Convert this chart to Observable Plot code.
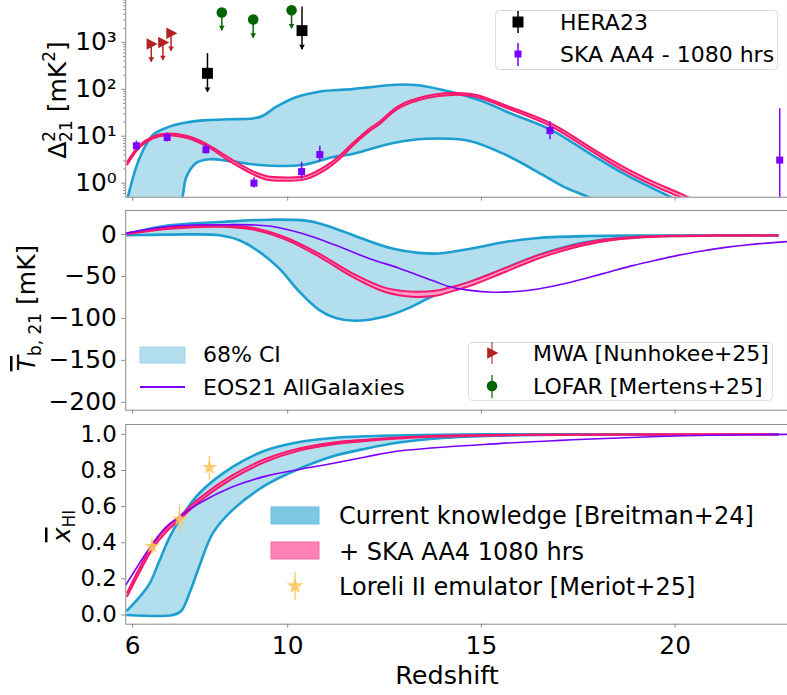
<!DOCTYPE html>
<html><head><meta charset="utf-8">
<script src="https://cdn.jsdelivr.net/npm/d3@7"></script>
<script src="https://cdn.jsdelivr.net/npm/@observablehq/plot@0.6"></script>
<style>
html,body{margin:0;padding:0;background:#fff;overflow:hidden;width:787px;height:695px;}
#root{position:relative;width:787px;height:695px;overflow:hidden;font-family:"DejaVu Sans",sans-serif;}
#root > div{position:absolute;left:0;}
</style></head><body><div id="root"></div>
<script>
// ---------------- axes / ticks ----------------
const X_DOMAIN = [5.82, 22.9];
const X_TICKS = [6, 10, 15, 20];
const X_TICK_LABELS = ["6", "10", "15", "20"];
const PS_DOMAIN = [0.501, 8610];
const PS_TICKS = [1, 10, 100, 1000];
const PS_TICK_LABELS = ["10⁰", "10¹", "10²", "10³"];
const TB_DOMAIN = [-209.4, 28.8];
const TB_TICKS = [0, -50, -100, -150, -200];
const TB_TICK_LABELS = ["0", "−50", "−100", "−150", "−200"];
const XHI_DOMAIN = [-0.051, 1.055];
const XHI_TICKS = [0, 0.2, 0.4, 0.6, 0.8, 1.0];
const XHI_TICK_LABELS = ["0.0", "0.2", "0.4", "0.6", "0.8", "1.0"];

// ---------------- panel 1: power spectrum Δ²21 [mK²] ----------------
const psBlueUpper = [[5.86,0.45],[6.18,3.46],[6.52,10.6],[6.95,16],[7.38,19.6],[7.90,22],[8.50,23],[9.10,23.9],[9.35,27],[9.70,42],[10.21,67.5],[10.81,89],[11.67,101],[12.10,110],[12.78,125],[13.30,123],[13.98,98],[14.41,80],[15.0,57],[15.70,32],[16.81,13.5],[17.84,4.06],[18.70,1.55],[19.90,0.5],[20.3,0.35]];
const psBlueLower = [[7.0,0.05],[7.2,0.25],[7.29,0.52],[7.38,1.32],[7.64,2.7],[7.98,3.24],[8.50,2.95],[9.27,2.43],[9.95,2.32],[10.47,2.5],[11.15,3.57],[11.67,4.2],[12.10,5.2],[12.70,7.1],[13.56,8.8],[14.67,8.0],[15.70,3.75],[16.56,1.54],[17.16,0.81],[17.76,0.5],[18.2,0.3]];
const psPinkZ  = [5.86,6.18,6.52,6.87,7.38,7.90,8.50,9.10,9.44,9.95,10.47,10.98,11.32,11.67,12.10,12.35,12.87,13.56,14.24,14.84,15.70,16.81,17.84,18.70,19.56,20.24,20.7];
const psPinkLo = [2.5,5.8,9.0,10.5,9.3,6.2,2.95,1.55,1.2,1.13,1.22,1.95,3.2,6.2,12.7,17.6,39.5,64,76,70,38.5,16,4.8,1.8,0.8,0.46,0.3];
const psPinkHi = [2.85,6.4,9.8,11.4,10.2,6.9,3.4,1.8,1.42,1.32,1.42,2.3,3.7,7.0,14.3,19.8,44.5,71,83,77,43,18.5,5.6,2.15,0.96,0.55,0.36];

const skaZ  = [6.095, 6.89, 7.89, 9.13, 10.36, 10.83, 16.77, 22.70];
const skaV  = [6.26, 9.4, 5.16, 1.0, 1.76, 4.05, 13.2, 3.1];
const skaLo = [4.9, 7.5, 4.2, 0.79, 1.21, 2.85, 8.4, 0.01];
const skaHi = [7.9, 11.5, 6.6, 1.3, 2.8, 6.1, 20.3, 38.6];

const heraZ = [7.93, 10.37];
const heraV = [219, 1780];
const heraHi = [575, 5650];
const heraLim = [86.5, 700];

const mwaZ = [6.48, 6.78, 6.99];
const mwaV = [921, 995, 1567];
const mwaLim = [379, 411, 644];

const lofarZ = [8.30, 9.11, 10.10];
const lofarV = [4315, 3076, 4822];
const lofarLim = [1776, 1231, 1955];

// ---------------- panel 2: global signal T_b,21 [mK] ----------------
const tbBlueUpper = [[5.86,1.0],[6.95,11],[8.24,15],[9.52,17.8],[10.55,16.1],[11.24,7.1],[11.92,-4.7],[12.70,-16.6],[13.38,-21.8],[13.90,-22.5],[14.75,-16.6],[15.61,-8.7],[16.47,-4],[17.76,-1.7],[19.04,-1.2],[20.5,-1.0],[22.65,-1.0]];
const tbBlueLower = [[5.86,-0.8],[6.5,-0.3],[7.4,0.3],[8.24,-0.8],[8.75,-6.8],[9.27,-20.6],[9.78,-40.3],[10.30,-68],[10.81,-89.7],[11.24,-99.5],[11.75,-102.7],[12.52,-97.6],[13.12,-87.7],[13.64,-75.8],[14.24,-64],[14.75,-56],[15.61,-40.3],[16.47,-24.5],[17.33,-12.7],[18.18,-6],[19.04,-2.8],[20.5,-1.3],[22.65,-1.0]];
const tbPinkZ  = [5.86,6.95,8.24,9.10,9.95,10.81,11.67,12.52,13.21,13.81,14.32,14.75,15.61,16.47,17.33,18.18,19.04,19.90,21.0,22.65];
const tbPinkLo = [0.6,7.0,9.4,6.0,-6.0,-26.2,-50.2,-68.5,-74,-73,-66.5,-60.5,-44.6,-28.5,-16.2,-7.8,-3.8,-2.1,-1.5,-1.2];
const tbPinkHi = [1.8,8.6,11.0,8.2,-3.4,-22.8,-46.2,-63.5,-68,-67,-61.5,-55.5,-40,-24.5,-13.2,-5.8,-2.6,-1.3,-0.9,-0.8];
const tbEos = [[5.82,1.6],[6.95,10],[8.24,11.8],[9.52,10.2],[10.38,1.2],[11.24,-12.7],[12.10,-28.4],[12.87,-40],[13.81,-56],[14.16,-62],[14.7,-66.5],[15.3,-68.7],[15.9,-67.8],[16.5,-64.5],[17.1,-59],[17.7,-52],[18.3,-44.5],[18.9,-37],[19.5,-30.5],[20.1,-24.5],[20.7,-19.5],[21.3,-15.2],[21.9,-12],[22.9,-8.3]];

// ---------------- panel 3: neutral fraction x_HI ----------------
const xBlueUpper = [[5.86,0.025],[6.18,0.10],[6.44,0.175],[6.69,0.30],[6.95,0.43],[7.21,0.527],[7.72,0.674],[8.58,0.82],[9.44,0.912],[10.30,0.958],[11.15,0.98],[12.01,0.99],[13.5,0.997],[15,1.0],[22.65,1.0]];
const xBlueLower = [[5.86,0],[7.04,0],[7.25,0.022],[7.47,0.123],[7.72,0.27],[8.07,0.453],[8.58,0.582],[9.44,0.72],[10.30,0.81],[11.15,0.878],[12.01,0.921],[12.87,0.955],[14,0.98],[15.5,0.993],[17,0.998],[22.65,1.0]];
const xPinkZ  = [5.86,6.18,6.52,6.87,7.21,7.72,8.58,9.44,10.30,11.15,12.01,12.87,14.0,16.0,18.0,22.65];
const xPinkLo = [0.105,0.238,0.369,0.46,0.527,0.628,0.756,0.849,0.91,0.944,0.963,0.977,0.988,0.996,0.998,0.999];
const xPinkHi = [0.125,0.262,0.391,0.48,0.545,0.646,0.774,0.865,0.922,0.954,0.971,0.983,0.992,0.998,1.0,1.001];
const xEos = [[5.82,0.165],[6.18,0.288],[6.52,0.398],[6.87,0.49],[7.21,0.545],[7.72,0.619],[8.58,0.71],[9.44,0.769],[10.30,0.806],[11.15,0.839],[12.01,0.875],[12.87,0.908],[15.44,0.949],[18.01,0.976],[20.59,0.994],[22.9,1.0]];

const loreliZ  = [6.50, 7.21, 7.98];
const loreliV  = [0.38, 0.53, 0.817];
const loreliLo = [0.334, 0.453, 0.747];
const loreliHi = [0.426, 0.61, 0.879];

// ---------------- styles ----------------
const BLUE_EDGE = "#1c9fd0", BLUE_FILL = "#b2deed", BLUE_SWATCH = "#7ec8e3";
const PINK_EDGE = "#f7186d", PINK_FILL = "#ff9cc4", PINK_SWATCH = "#ff80b3";
const PURPLE = "#7b00ff", MWA_C = "#b22222", LOFAR_C = "#006400", STAR_C = "#ffc55a";
const SPINE = "#8a8a8a";
const FONT = "DejaVu Sans";

const caretDown = {draw(ctx, size){ const s = Math.sqrt(size); ctx.moveTo(-0.5*s, -0.85*s); ctx.lineTo(0.5*s, -0.85*s); ctx.lineTo(0, 0); ctx.closePath(); }};
const triRight = {draw(ctx, size){ const s = Math.sqrt(size); ctx.moveTo(-0.45*s, -0.55*s); ctx.lineTo(-0.45*s, 0.55*s); ctx.lineTo(0.6*s, 0); ctx.closePath(); }};

const P = d => d[0], V = d => d[1];
function poly(upper, lower){ return upper.concat(lower.slice().reverse()); }
function zip(z, v){ return z.map((zz, i) => [zz, v[i]]); }

function bandMarks(upper, lower, fill, edge, ew){
  return [
    Plot.line(poly(upper, lower), {x: P, y: V, fill, stroke: "none", curve: "catmull-rom", clip: true}),
    Plot.line(upper, {x: P, y: V, stroke: edge, strokeWidth: ew, curve: "catmull-rom", clip: true}),
    Plot.line(lower, {x: P, y: V, stroke: edge, strokeWidth: ew, curve: "catmull-rom", clip: true})
  ];
}

function panel({height, mt, mb, y, marks, xLabels, tickFont}){
  return Plot.plot({
    width: 792, height, marginLeft: 126, marginRight: 0, marginTop: mt, marginBottom: mb,
    style: {fontFamily: FONT, fontSize: tickFont + "px", color: "#000", background: "transparent", overflow: "visible"},
    x: {domain: X_DOMAIN, label: null},
    y: {...y, label: null},
    marks: [
      ...marks,
      Plot.frame({stroke: SPINE, strokeWidth: 1}),
      Plot.axisX({ticks: X_TICKS, tickSize: 4, tickPadding: 8, stroke: SPINE, fontSize: 25,
        tickFormat: xLabels ? (d => X_TICK_LABELS[X_TICKS.indexOf(d)]) : (() => "")}),
    ]
  });
}

const root = document.getElementById("root");
function place(el, top){ const d = document.createElement("div"); d.style.top = top + "px"; d.appendChild(el); root.appendChild(d); }

// ---- panel 1
const ska = skaZ.map((z, i) => ({z, v: skaV[i], lo: skaLo[i], hi: skaHi[i]}));
const hera = heraZ.map((z, i) => ({z, v: heraV[i], hi: heraHi[i], lim: heraLim[i]}));
const mwa = mwaZ.map((z, i) => ({z, v: mwaV[i], lim: mwaLim[i]}));
const lofar = lofarZ.map((z, i) => ({z, v: lofarV[i], lim: lofarLim[i]}));
const minorLog = [];
for (let k = -1; k <= 3; k++) for (let m = 2; m <= 9; m++) { const t = m * Math.pow(10, k); if (t > PS_DOMAIN[0] && t < PS_DOMAIN[1]) minorLog.push(t); }

const p1 = panel({
  height: 206, mt: 0, mb: 6, tickFont: 25,
  y: {type: "log", domain: PS_DOMAIN},
  marks: [
    ...bandMarks(psBlueUpper, psBlueLower, BLUE_FILL, BLUE_EDGE, 2.6),
    ...bandMarks(zip(psPinkZ, psPinkHi), zip(psPinkZ, psPinkLo), PINK_FILL, PINK_EDGE, 2),
    Plot.ruleX(ska, {x: "z", y1: "lo", y2: "hi", stroke: PURPLE, strokeWidth: 1.5, clip: true}),
    Plot.dot(ska, {x: "z", y: "v", symbol: "square", r: 4, fill: PURPLE, stroke: "none"}),
    Plot.ruleX(mwa, {x: "z", y1: "lim", y2: "v", stroke: MWA_C, strokeWidth: 1.5}),
    Plot.dot(mwa, {x: "z", y: "lim", symbol: caretDown, r: 3.2, fill: MWA_C, stroke: "none"}),
    Plot.dot(mwa, {x: "z", y: "v", symbol: triRight, r: 6, fill: MWA_C, stroke: "none"}),
    Plot.ruleX(lofar, {x: "z", y1: "lim", y2: "v", stroke: LOFAR_C, strokeWidth: 1.5}),
    Plot.dot(lofar, {x: "z", y: "lim", symbol: caretDown, r: 3.2, fill: LOFAR_C, stroke: "none"}),
    Plot.dot(lofar, {x: "z", y: "v", symbol: "circle", r: 5.3, fill: LOFAR_C, stroke: "none"}),
    Plot.ruleX(hera, {x: "z", y1: "lim", y2: "hi", stroke: "black", strokeWidth: 1.5}),
    Plot.dot(hera, {x: "z", y: "lim", symbol: caretDown, r: 3.2, fill: "black", stroke: "none"}),
    Plot.dot(hera, {x: "z", y: "v", symbol: "square", r: 6.2, fill: "black", stroke: "none"}),
    Plot.axisY({ticks: PS_TICKS, tickSize: 4, tickPadding: 5, stroke: SPINE, tickFormat: d => PS_TICK_LABELS[PS_TICKS.indexOf(d)]}),
    Plot.axisY({ticks: minorLog, tickSize: 2, stroke: SPINE, tickFormat: () => ""})
  ]
});
place(p1, -2);

// ---- panel 2
const p2 = panel({
  height: 211, mt: 6, mb: 4, tickFont: 25,
  y: {domain: TB_DOMAIN},
  marks: [
    ...bandMarks(tbBlueUpper, tbBlueLower, BLUE_FILL, BLUE_EDGE, 2.6),
    ...bandMarks(zip(tbPinkZ, tbPinkHi), zip(tbPinkZ, tbPinkLo), PINK_FILL, PINK_EDGE, 2),
    Plot.line(tbEos, {x: P, y: V, stroke: PURPLE, strokeWidth: 1.6, curve: "catmull-rom", clip: true}),
    Plot.axisY({ticks: TB_TICKS, tickSize: 4, tickPadding: 5, stroke: SPINE, tickFormat: d => TB_TICK_LABELS[TB_TICKS.indexOf(d)]})
  ]
});
place(p2, 204);

// ---- panel 3
const loreli = loreliZ.map((z, i) => ({z, v: loreliV[i], lo: loreliLo[i], hi: loreliHi[i]}));
const p3 = panel({
  height: 277, mt: 6, mb: 70, xLabels: true, tickFont: 23,
  y: {domain: XHI_DOMAIN},
  marks: [
    ...bandMarks(xBlueUpper, xBlueLower, BLUE_FILL, BLUE_EDGE, 2.6),
    ...bandMarks(zip(xPinkZ, xPinkHi), zip(xPinkZ, xPinkLo), PINK_FILL, PINK_EDGE, 2),
    Plot.line(xEos, {x: P, y: V, stroke: PURPLE, strokeWidth: 1.6, curve: "catmull-rom", clip: true}),
    Plot.ruleX(loreli, {x: "z", y1: "lo", y2: "hi", stroke: STAR_C, strokeWidth: 1.5, strokeOpacity: 0.85}),
    Plot.dot(loreli, {x: "z", y: "v", symbol: "star", r: 4.8, fill: STAR_C, fillOpacity: 0.85, stroke: "none"}),
    Plot.axisY({ticks: XHI_TICKS, tickSize: 4, tickPadding: 5, stroke: SPINE, tickFormat: d => XHI_TICK_LABELS[XHI_TICKS.indexOf(d)]})
  ]
});
place(p3, 418);

// ---------------- overlay: axis labels and legends ----------------
const ov = d3.select(root).append("svg").attr("width", 787).attr("height", 695)
  .style("position", "absolute").style("left", "0px").style("top", "0px")
  .attr("font-family", FONT);

// y label 1: Δ^2_21 [mK^2]
const l1 = ov.append("text").attr("transform", "translate(66,100) rotate(-90)").attr("text-anchor", "middle").attr("font-size", 25);
l1.append("tspan").text("Δ");
l1.append("tspan").attr("font-size", 17).attr("dy", -11).text("2");
l1.append("tspan").attr("font-size", 17).attr("dx", -11).attr("dy", 17).text("21");
l1.append("tspan").attr("dy", -6).text(" [mK");
l1.append("tspan").attr("font-size", 17).attr("dy", -11).text("2");
l1.append("tspan").attr("dy", 11).text("]");

// y label 2: T̄_b,21 [mK]
const l2 = ov.append("text").attr("transform", "translate(35,308) rotate(-90)").attr("text-anchor", "middle").attr("font-size", 25);
l2.append("tspan").attr("font-style", "italic").style("text-decoration", "overline").text("T");
l2.append("tspan").attr("font-size", 17).attr("dy", 6).text("b, 21");
l2.append("tspan").attr("dy", -6).text(" [mK]");

// y label 3: x̄_HI
const l3 = ov.append("text").attr("transform", "translate(70,526) rotate(-90)").attr("text-anchor", "middle").attr("font-size", 25);
l3.append("tspan").attr("font-style", "italic").style("text-decoration", "overline").text("x");
l3.append("tspan").attr("font-size", 17).attr("dy", 5).text("HI");

// x label
ov.append("text").attr("x", 447).attr("y", 684).attr("text-anchor", "middle").attr("font-size", 25.5).text("Redshift");

function legendBox(x, y, w, h){
  ov.append("rect").attr("x", x).attr("y", y).attr("width", w).attr("height", h).attr("rx", 4)
    .attr("fill", "white").attr("fill-opacity", 0.8).attr("stroke", "#dcdcdc");
}
function legText(x, y, t, fs = 22){ ov.append("text").attr("x", x).attr("y", y).attr("font-size", fs).text(t); }
function sym(type, size, cx, cy, fill, op = 1){ ov.append("path").attr("d", d3.symbol(type, size)()).attr("transform", `translate(${cx},${cy})`).attr("fill", fill).attr("fill-opacity", op); }
function vline(x, y1, y2, c, op = 1){ ov.append("line").attr("x1", x).attr("x2", x).attr("y1", y1).attr("y2", y2).attr("stroke", c).attr("stroke-width", 1.5).attr("stroke-opacity", op); }

// legend panel 1
legendBox(495.5, 10.5, 282, 59);
vline(518, 11, 33, "black"); sym(d3.symbolSquare, 121, 518, 22, "black"); legText(560, 30, "HERA23");
vline(518, 43, 66, PURPLE); sym(d3.symbolSquare, 49, 518, 54, PURPLE); legText(560, 62, "SKA AA4 - 1080 hrs");

// legend panel 2 left
ov.append("rect").attr("x", 140).attr("y", 347).attr("width", 45).attr("height", 16).attr("fill", BLUE_FILL).attr("stroke", "#9ed3e8");
legText(203, 362, "68% CI");
ov.append("line").attr("x1", 140).attr("x2", 185).attr("y1", 387).attr("y2", 387).attr("stroke", PURPLE).attr("stroke-width", 2);
legText(203, 395, "EOS21 AllGalaxies");

// legend panel 2 right
legendBox(468.5, 342.5, 304, 58);
vline(492, 342, 364, MWA_C, 0.7); sym(triRight, 113, 492, 353, MWA_C); legText(533, 361, "MWA [Nunhokee+25]");
vline(492, 375, 398, LOFAR_C, 0.8); sym(d3.symbolCircle, 88, 492, 386, LOFAR_C); legText(533, 394, "LOFAR [Mertens+25]");

// legend panel 3
ov.append("rect").attr("x", 271).attr("y", 507).attr("width", 48).attr("height", 17).attr("fill", BLUE_SWATCH).attr("stroke", "#68bde0");
legText(339, 524, "Current knowledge [Breitman+24]", 24);
ov.append("rect").attr("x", 271).attr("y", 542).attr("width", 48).attr("height", 17).attr("fill", PINK_SWATCH).attr("stroke", "#f46aa2");
legText(339, 560, "+ SKA AA4 1080 hrs", 24);
vline(295, 572, 600, STAR_C, 0.85); sym(d3.symbolStar, 90, 295, 586, STAR_C, 0.85);
legText(339, 595, "Loreli II emulator [Meriot+25]", 24);
</script></body></html>
